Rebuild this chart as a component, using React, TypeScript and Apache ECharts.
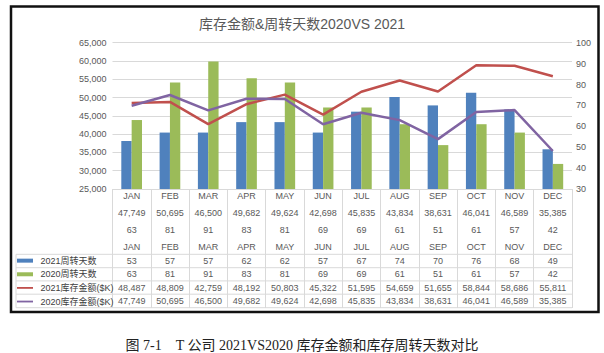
import React, { useEffect, useRef } from "react";
import * as echarts from "echarts";

const MONTHS = ["JAN", "FEB", "MAR", "APR", "MAY", "JUN", "JUL", "AUG", "SEP", "OCT", "NOV", "DEC"];
const DAYS_2021 = [53, 57, 57, 62, 62, 57, 67, 74, 70, 76, 68, 49];
const DAYS_2020 = [63, 81, 91, 83, 81, 69, 69, 61, 51, 61, 57, 42];
const AMT_2021 = [48487, 48809, 42759, 48192, 50803, 45322, 51595, 54659, 51655, 58844, 58686, 55811];
const AMT_2020 = [47749, 50695, 46500, 49682, 49624, 42698, 45835, 43834, 38631, 46041, 46589, 35385];

const SERIES_NAMES = ["2021周转天数", "2020周转天数", "2021库存金额($K)", "2020库存金额($K)"];
const TITLE = "库存金额&周转天数2020VS 2021";
const CAPTION = "图 7-1    T 公司 2021VS2020 库存金额和库存周转天数对比";

const LEFT_AXIS = { min: 25000, max: 65000, interval: 5000 };
const RIGHT_AXIS = { min: 30, max: 100, interval: 10 };

const FONT = "'Liberation Sans', 'Noto Sans CJK SC', sans-serif";
const GREY = "#595959";
const LINE = "#d9d9d9";
const LINE_ICON = "path://M0,0M16,4M0,1.1H16V2.9H0Z";

const fmt = (n: number) => n.toLocaleString("en-US");

export default function App() {
  const ref = useRef<HTMLDivElement>(null);
  useEffect(() => {
    if (!ref.current) return;
    const chart = echarts.init(ref.current, null, { renderer: "svg" });

    const tableRows = [DAYS_2021.map(String), DAYS_2020.map(String), AMT_2021.map(fmt), AMT_2020.map(fmt)];
    const rowOffsets = [65.2, 78.5, 92.0, 105.4];
    const hLines = [254.3, 267.7, 280.9, 294.2, 307.7];

    const graphic: any[] = [
      {
        type: "rect",
        shape: { x: 11, y: 6.5, width: 587.5, height: 305.5 },
        style: { fill: "none", stroke: "#111", lineWidth: 2.5 },
      },
      ...hLines.map((y) => ({
        type: "line",
        shape: { x1: 16, y1: y, x2: 572, y2: y },
        style: { stroke: LINE, lineWidth: 1 },
      })),
      {
        type: "line",
        shape: { x1: 16, y1: hLines[0], x2: 16, y2: hLines[4] },
        style: { stroke: LINE, lineWidth: 1 },
      },
    ];

    chart.setOption({
      animation: false,
      textStyle: { fontFamily: FONT },
      title: [
        {
          text: TITLE,
          left: "center",
          top: 12,
          textStyle: { fontSize: 14, fontWeight: "normal", color: GREY, fontFamily: FONT },
        },
        {
          text: CAPTION,
          left: "center",
          top: 333,
          textStyle: {
            fontSize: 14,
            fontWeight: "normal",
            color: "#222",
            fontFamily: "'Liberation Serif', 'Noto Sans CJK SC', serif",
          },
        },
      ],
      legend: {
        orient: "vertical",
        left: 17,
        top: 254,
        itemWidth: 16,
        itemHeight: 4,
        itemGap: 0.33,
        padding: 0,
        formatter: (name: string) => " " + name,
        textStyle: { fontSize: 9, color: "#404040", lineHeight: 13.3, fontFamily: FONT },
        data: [
          { name: SERIES_NAMES[0], icon: "rect" },
          { name: SERIES_NAMES[1], icon: "rect" },
          { name: SERIES_NAMES[2], icon: LINE_ICON, itemStyle: { color: "#C0504D" } },
          { name: SERIES_NAMES[3], icon: LINE_ICON, itemStyle: { color: "#8064A2" } },
        ],
      },
      grid: { left: 112.5, right: 32, top: 42.7, bottom: 164, containLabel: false },
      xAxis: [
        {
          type: "category",
          data: MONTHS,
          position: "bottom",
          boundaryGap: true,
          axisLine: { show: true, lineStyle: { color: LINE } },
          axisTick: { show: true, interval: 0, length: 119, lineStyle: { color: LINE } },
          axisLabel: {
            interval: 0,
            margin: -1.5,
            lineHeight: 17,
            fontSize: 9,
            color: GREY,
            formatter: (v: string, i: number) => `${v}\n${fmt(AMT_2020[i])}\n${DAYS_2020[i]}\n${v}`,
          },
          splitLine: { show: false },
        },
        ...tableRows.map((row, k) => ({
          type: "category",
          data: row,
          position: "bottom",
          offset: rowOffsets[k],
          boundaryGap: true,
          axisLine: { show: false },
          axisTick: { show: false },
          axisLabel: { interval: 0, margin: 0, lineHeight: 13, fontSize: 9, color: GREY },
          splitLine: { show: false },
        })),
      ],
      yAxis: [
        {
          type: "value",
          position: "left",
          min: LEFT_AXIS.min,
          max: LEFT_AXIS.max,
          interval: LEFT_AXIS.interval,
          axisLine: { show: false },
          axisTick: { show: false },
          axisLabel: { fontSize: 9, color: GREY, margin: 6, formatter: (v: number) => fmt(v) },
          splitLine: { show: true, lineStyle: { color: LINE } },
        },
        {
          type: "value",
          position: "right",
          min: RIGHT_AXIS.min,
          max: RIGHT_AXIS.max,
          interval: RIGHT_AXIS.interval,
          axisLine: { show: false },
          axisTick: { show: false },
          axisLabel: { fontSize: 9, color: GREY, margin: 4 },
          splitLine: { show: false },
        },
      ],
      series: [
        {
          name: SERIES_NAMES[0],
          type: "bar",
          xAxisIndex: 0,
          yAxisIndex: 1,
          data: DAYS_2021,
          barGap: "0%",
          barCategoryGap: "46%",
          itemStyle: { color: "#4F81BD" },
        },
        {
          name: SERIES_NAMES[1],
          type: "bar",
          xAxisIndex: 0,
          yAxisIndex: 1,
          data: DAYS_2020,
          barGap: "0%",
          barCategoryGap: "46%",
          itemStyle: { color: "#9BBB59" },
        },
        {
          name: SERIES_NAMES[2],
          type: "line",
          xAxisIndex: 0,
          yAxisIndex: 0,
          data: AMT_2021,
          symbol: "none",
          lineStyle: { color: "#C0504D", width: 2.5 },
          itemStyle: { color: "#C0504D" },
        },
        {
          name: SERIES_NAMES[3],
          type: "line",
          xAxisIndex: 0,
          yAxisIndex: 0,
          data: AMT_2020,
          symbol: "none",
          lineStyle: { color: "#8064A2", width: 2.5 },
          itemStyle: { color: "#8064A2" },
        },
      ],
      graphic,
    });

    return () => chart.dispose();
  }, []);

  return (
    <div
      ref={ref}
      style={{ position: "fixed", left: 0, top: 0, width: 604, height: 353, background: "#fff" }}
    />
  );
}
